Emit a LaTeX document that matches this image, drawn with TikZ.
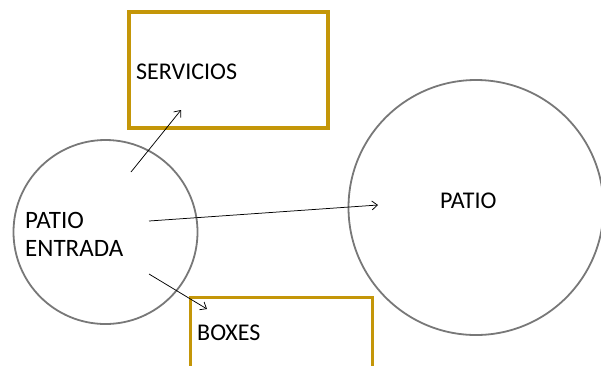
\documentclass[tikz,border=0pt]{standalone}
\usepackage{fontspec}
\setmainfont{Carlito}
\usetikzlibrary{arrows.meta}
\definecolor{boxgold}{RGB}{196,150,8}
\definecolor{ringgray}{RGB}{120,120,120}
\begin{document}
\begin{tikzpicture}[x=1pt,y=-1pt,
  ring/.style={circle,draw=ringgray,line width=1.8pt,inner sep=0pt},
  placebox/.style={draw=boxgold,line width=3.2pt,inner sep=0pt},
  lbl/.style={font=\fontsize{24}{28}\selectfont,inner sep=0pt,anchor=base west,align=left},
  link/.style={-{Straight Barb[length=5.5pt,width=9pt]},line width=0.75pt,black}]
\useasboundingbox (0,0) rectangle (601,365);
\node[placebox,minimum width=199pt,minimum height=116pt] (serv) at (228.5,70) {};
\node[placebox,minimum width=182pt,minimum height=120pt,anchor=north west] (boxes) at (189,296) {};
\node[ring,minimum size=184pt] (pe) at (105.5,232) {};
\node[ring,minimum size=255pt] (patio) at (476,207.5) {};
\node[lbl] (servt) at (136,79) {SERVICIOS};
\node[lbl] (boxt) at (197,340) {BOXES};
\node[lbl] (patiot) at (440,208) {PATIO};
\node[lbl,font=\fontsize{25}{28}\selectfont] (pet) at (25,256) {PATIO\\ENTRADA};
\coordinate (s1) at (131,172);
\coordinate (e1) at (181,110);
\coordinate (s2) at (149,221);
\coordinate (e2) at (378,205);
\coordinate (s3) at (149,274);
\coordinate (e3) at (207,309);
\draw[link] (s1) -- (e1);
\draw[link] (s2) -- (e2);
\draw[link] (s3) -- (e3);
\end{tikzpicture}
\end{document}
